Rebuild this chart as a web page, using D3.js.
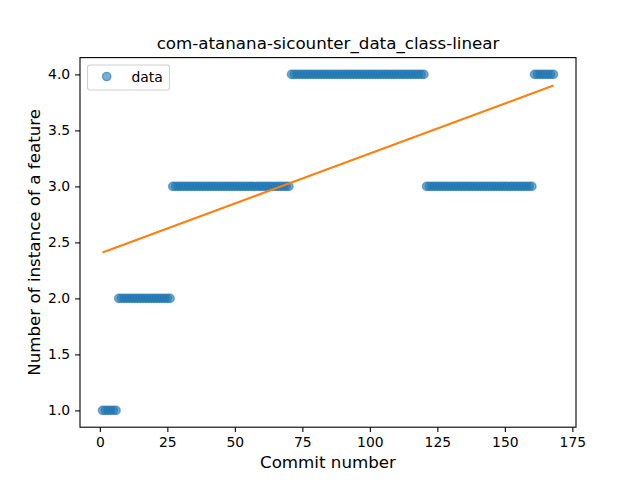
<!DOCTYPE html>
<html>
<head>
  <meta charset="utf-8">
  <script src="https://d3js.org/d3.v7.min.js"></script>
  <style type="text/css">
    body { margin: 0; background: #fff; }
    text { font-family: "DejaVu Sans", sans-serif; fill: #000; }
  </style>
</head>
<body>
  <script type="text/javascript">
  // commit numbers and feature counts
  var commits = [
    1, 2, 3, 4, 5, 6, 7, 8, 9, 10, 11, 12, 13, 14, 15, 16, 17, 18, 19, 20,
    21, 22, 23, 24, 25, 26, 27, 28, 29, 30, 31, 32, 33, 34, 35, 36, 37, 38, 39, 40,
    41, 42, 43, 44, 45, 46, 47, 48, 49, 50, 51, 52, 53, 54, 55, 56, 57, 58, 59, 60,
    61, 62, 63, 64, 65, 66, 67, 68, 69, 70, 71, 72, 73, 74, 75, 76, 77, 78, 79, 80,
    81, 82, 83, 84, 85, 86, 87, 88, 89, 90, 91, 92, 93, 94, 95, 96, 97, 98, 99, 100,
    101, 102, 103, 104, 105, 106, 107, 108, 109, 110, 111, 112, 113, 114, 115, 116, 117, 118, 119, 120,
    121, 122, 123, 124, 125, 126, 127, 128, 129, 130, 131, 132, 133, 134, 135, 136, 137, 138, 139, 140,
    141, 142, 143, 144, 145, 146, 147, 148, 149, 150, 151, 152, 153, 154, 155, 156, 157, 158, 159, 160,
    161, 162, 163, 164, 165, 166, 167, 168
  ];
  var counts = [
    1, 1, 1, 1, 1, 1, 2, 2, 2, 2, 2, 2, 2, 2, 2, 2, 2, 2, 2, 2,
    2, 2, 2, 2, 2, 2, 3, 3, 3, 3, 3, 3, 3, 3, 3, 3, 3, 3, 3, 3,
    3, 3, 3, 3, 3, 3, 3, 3, 3, 3, 3, 3, 3, 3, 3, 3, 3, 3, 3, 3,
    3, 3, 3, 3, 3, 3, 3, 3, 3, 3, 4, 4, 4, 4, 4, 4, 4, 4, 4, 4,
    4, 4, 4, 4, 4, 4, 4, 4, 4, 4, 4, 4, 4, 4, 4, 4, 4, 4, 4, 4,
    4, 4, 4, 4, 4, 4, 4, 4, 4, 4, 4, 4, 4, 4, 4, 4, 4, 4, 4, 4,
    3, 3, 3, 3, 3, 3, 3, 3, 3, 3, 3, 3, 3, 3, 3, 3, 3, 3, 3, 3,
    3, 3, 3, 3, 3, 3, 3, 3, 3, 3, 3, 3, 3, 3, 3, 3, 3, 3, 3, 3,
    4, 4, 4, 4, 4, 4, 4, 4
  ];
  // linear fit line ends
  var fitX = [1, 168];
  var fitY = [2.41, 3.90];

  var xTicks = [0, 25, 50, 75, 100, 125, 150, 175];
  var yTicks = [1.0, 1.5, 2.0, 2.5, 3.0, 3.5, 4.0];

  var width = 640, height = 480;
  var mLeft = 80, mRight = 576, mTop = 57.6, mBottom = 427.2;

  var svg = d3.select("body").append("svg")
      .attr("width", width)
      .attr("height", height);

  var x = d3.scaleLinear().domain([1 - 8.35, 168 + 8.35]).range([mLeft, mRight]);
  var y = d3.scaleLinear().domain([0.85, 4.15]).range([mBottom, mTop]);

  // points
  svg.append("g")
    .selectAll("circle")
    .data(commits)
    .enter().append("circle")
      .attr("cx", function(d) { return x(d); })
      .attr("cy", function(d, i) { return y(counts[i]); })
      .attr("r", 4.17)
      .attr("fill", "#1f77b4")
      .attr("fill-opacity", 0.6)
      .attr("stroke", "#1f77b4")
      .attr("stroke-opacity", 0.6)
      .attr("stroke-width", 1.4);

  // fit line
  var line = d3.line()
      .x(function(d) { return x(d); })
      .y(function(d, i) { return y(fitY[i]); });
  svg.append("path")
      .datum(fitX)
      .attr("d", line)
      .attr("fill", "none")
      .attr("stroke", "#ff7f0e")
      .attr("stroke-width", 2.08);

  // axes
  var xAxis = svg.append("g")
      .attr("transform", "translate(0," + mBottom + ")")
      .call(d3.axisBottom(x).tickValues(xTicks).tickFormat(d3.format("d"))
        .tickSizeOuter(0).tickSize(4.9).tickPadding(4.9));
  var yAxis = svg.append("g")
      .attr("transform", "translate(" + mLeft + ",0)")
      .call(d3.axisLeft(y).tickValues(yTicks).tickFormat(d3.format(".1f"))
        .tickSizeOuter(0).tickSize(4.9).tickPadding(4.9));
  [xAxis, yAxis].forEach(function(a) {
    a.select(".domain").remove();
    a.selectAll("line").attr("stroke", "#000").attr("stroke-width", 1.1);
    a.selectAll("text").style("font-size", "13.9px").style("font-family", "DejaVu Sans");
  });

  // frame
  svg.append("rect")
      .attr("x", mLeft).attr("y", mTop)
      .attr("width", mRight - mLeft).attr("height", mBottom - mTop)
      .attr("fill", "none").attr("stroke", "#000").attr("stroke-width", 1.1);

  // title and labels
  svg.append("text")
      .attr("x", (mLeft + mRight) / 2).attr("y", 49)
      .attr("text-anchor", "middle")
      .style("font-size", "16.7px")
      .text("com-atanana-sicounter_data_class-linear");
  svg.append("text")
      .attr("x", (mLeft + mRight) / 2).attr("y", 468)
      .attr("text-anchor", "middle")
      .style("font-size", "16.7px")
      .text("Commit number");
  svg.append("text")
      .attr("transform", "translate(40," + (mTop + mBottom) / 2 + ") rotate(-90)")
      .attr("text-anchor", "middle")
      .style("font-size", "16.7px")
      .text("Number of instance of a feature");

  // legend
  var lg = svg.append("g");
  lg.append("rect")
      .attr("x", 87.5).attr("y", 65)
      .attr("width", 82).attr("height", 25)
      .attr("rx", 2.5)
      .attr("fill", "#fff").attr("fill-opacity", 0.8)
      .attr("stroke", "#d0d0d0").attr("stroke-width", 1.1);
  lg.append("circle")
      .attr("cx", 106.7).attr("cy", 76.5).attr("r", 4.17)
      .attr("fill", "#1f77b4").attr("fill-opacity", 0.6)
      .attr("stroke", "#1f77b4").attr("stroke-opacity", 0.6).attr("stroke-width", 1.4);
  lg.append("text")
      .attr("x", 131.5).attr("y", 81.5)
      .style("font-size", "13.9px")
      .text("data");
  </script>
</body>
</html>
